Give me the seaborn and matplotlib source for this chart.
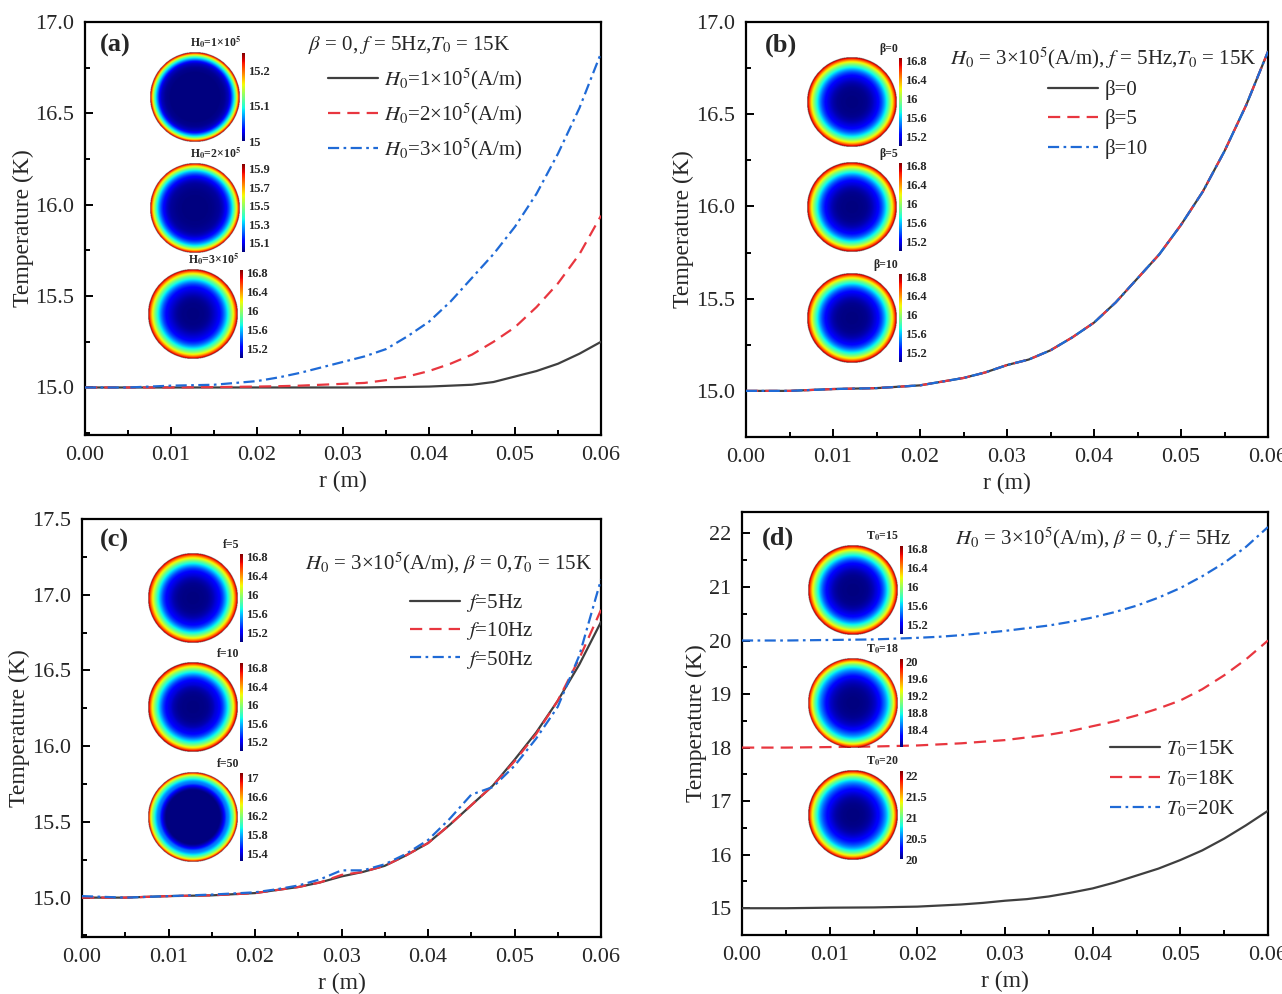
import numpy as np
import pandas as pd
import matplotlib
matplotlib.use("Agg")
import matplotlib.pyplot as plt
import seaborn as sns
from matplotlib.ticker import MultipleLocator, FormatStrFormatter

# ---------------- data ----------------
r = [0.0, 0.005, 0.01, 0.015, 0.02, 0.0225, 0.025, 0.0275, 0.03, 0.0325, 0.035,
     0.0375, 0.04, 0.0425, 0.045, 0.0475, 0.05, 0.0525, 0.055, 0.0575, 0.06]

# panel (a)
T_H1 = [15.0, 15.0, 15.0, 15.0, 15.0, 15.0, 15.0, 15.0, 15.0, 15.0, 15.002,
        15.003, 15.005, 15.01, 15.015, 15.03, 15.06, 15.09, 15.13, 15.185, 15.25]
T_H2 = [15.0, 15.0, 15.0, 15.002, 15.005, 15.007, 15.01, 15.015, 15.02, 15.025, 15.04,
        15.06, 15.09, 15.13, 15.18, 15.25, 15.33, 15.44, 15.57, 15.73, 15.94]
T_H3 = [15.0, 15.0, 15.01, 15.015, 15.035, 15.055, 15.08, 15.11, 15.14, 15.17, 15.21,
        15.28, 15.36, 15.47, 15.6, 15.73, 15.88, 16.06, 16.28, 16.53, 16.83]
# panel (b)
T_b0 = [15.0, 15.0, 15.01, 15.015, 15.03, 15.05, 15.07, 15.1, 15.14, 15.17, 15.22,
        15.29, 15.37, 15.48, 15.61, 15.74, 15.9, 16.08, 16.3, 16.55, 16.84]
T_b5 = T_b0
T_b10 = T_b0
# panel (c)
T_f5 = [15.0, 15.0, 15.01, 15.015, 15.03, 15.05, 15.07, 15.1, 15.14, 15.17, 15.21,
        15.28, 15.36, 15.48, 15.61, 15.74, 15.91, 16.09, 16.3, 16.54, 16.82]
T_f10 = [15.0, 15.0, 15.01, 15.015, 15.03, 15.05, 15.07, 15.1, 15.15, 15.17, 15.21,
         15.28, 15.36, 15.48, 15.61, 15.74, 15.9, 16.08, 16.3, 16.58, 16.9]
T_f50 = [15.01, 15.0, 15.01, 15.02, 15.035, 15.055, 15.08, 15.12, 15.18, 15.18, 15.22,
         15.29, 15.38, 15.52, 15.68, 15.73, 15.87, 16.05, 16.26, 16.6, 17.1]
# panel (d)
T_T15 = [15.0, 15.0, 15.01, 15.015, 15.03, 15.05, 15.07, 15.1, 15.14, 15.17, 15.22,
         15.29, 15.37, 15.48, 15.61, 15.74, 15.9, 16.08, 16.3, 16.55, 16.82]
T_T18 = [18.0, 18.0, 18.01, 18.02, 18.04, 18.06, 18.08, 18.11, 18.14, 18.19, 18.24,
         18.31, 18.4, 18.49, 18.6, 18.73, 18.88, 19.09, 19.35, 19.65, 20.0]
T_T20 = [20.0, 20.0, 20.01, 20.02, 20.05, 20.07, 20.1, 20.14, 20.18, 20.23, 20.28,
         20.35, 20.43, 20.53, 20.65, 20.8, 20.98, 21.2, 21.45, 21.75, 22.12]

labels_a = [r"$H_0$=1×10$^5$(A/m)", r"$H_0$=2×10$^5$(A/m)", r"$H_0$=3×10$^5$(A/m)"]
labels_b = ["β=0", "β=5", "β=10"]
labels_c = [r"$f$=5Hz", r"$f$=10Hz", r"$f$=50Hz"]
labels_d = [r"$T_0$=15K", r"$T_0$=18K", r"$T_0$=20K"]

cond_a = r"$\beta$ = 0, $f$ = 5Hz,$T_0$ = 15K"
cond_b = r"$H_0$ = 3×10$^5$(A/m), $f$ = 5Hz,$T_0$ = 15K"
cond_c = r"$H_0$ = 3×10$^5$(A/m), $\beta$ = 0,$T_0$ = 15K"
cond_d = r"$H_0$ = 3×10$^5$(A/m), $\beta$ = 0, $f$ = 5Hz"

# inset titles / colorbar ticks
inset_a = [r"H$_\mathbf{0}$=1×10$^\mathbf{5}$", r"H$_\mathbf{0}$=2×10$^\mathbf{5}$", r"H$_\mathbf{0}$=3×10$^\mathbf{5}$"]
inset_b = ["β=0", "β=5", "β=10"]
inset_c = ["f=5", "f=10", "f=50"]
inset_d = [r"T$_\mathbf{0}$=15", r"T$_\mathbf{0}$=18", r"T$_\mathbf{0}$=20"]
cb_ticks_a = [[15, 15.1, 15.2], [15.1, 15.3, 15.5, 15.7, 15.9], [15.2, 15.6, 16, 16.4, 16.8]]
cb_ticks_b = [[15.2, 15.6, 16, 16.4, 16.8]] * 3
cb_ticks_c = [[15.2, 15.6, 16, 16.4, 16.8], [15.2, 15.6, 16, 16.4, 16.8], [15.4, 15.8, 16.2, 16.6, 17]]
cb_ticks_d = [[15.2, 15.6, 16, 16.4, 16.8], [18.4, 18.8, 19.2, 19.6, 20], [20, 20.5, 21, 21.5, 22]]
cb_range_a = [(15.0, 15.25), (15.0, 15.95), (15.0, 16.85)]
cb_range_b = [(15.0, 16.85)] * 3
cb_range_c = [(15.0, 16.85), (15.0, 16.9), (15.25, 17.1)]
cb_range_d = [(15.0, 16.85), (18.0, 20.05), (20.0, 22.12)]

# ---------------- style ----------------
sns.set_style("ticks")
plt.rcParams["font.family"] = ["Liberation Serif", "DejaVu Serif"]
plt.rcParams["mathtext.fontset"] = "stix"

W, H = 1282, 994
fig = plt.figure(figsize=(W / 100, H / 100), dpi=100)
fig.patch.set_facecolor("white")


def pax(l, t, rr, b):
    return [l / W, 1 - b / H, (rr - l) / W, (b - t) / H]


COLORS = ["#3f3f3f", "#e8363f", "#1f6ad6"]
STYLES = ["-", (0, (5.5, 3.2)), (0, (5, 2, 1.2, 2))]

panels = [
    dict(box=(85, 22, 601, 435), ys=[T_H1, T_H2, T_H3], labels=labels_a, ylim=(14.74, 17.0),
         major=0.5, minor=0.25, fmt="%.1f", tag="(a)", tagpos=(100, 45), cond=cond_a,
         condpos=(308, 45), leg=(0.471, 0.893), lsp=0.45,
         insets=inset_a, cbt=cb_ticks_a, cbr=cb_range_a, curves=[T_H1, T_H2, T_H3],
         centers=[(195, 97), (195, 208), (193, 314)]),
    dict(box=(746, 22, 1268, 437), ys=[T_b0, T_b5, T_b10], labels=labels_b, ylim=(14.75, 17.0),
         major=0.5, minor=0.25, fmt="%.1f", tag="(b)", tagpos=(765, 45), cond=cond_b,
         condpos=(950, 58), leg=(0.579, 0.860), lsp=0.45,
         insets=inset_b, cbt=cb_ticks_b, cbr=cb_range_b, curves=[T_b0, T_b5, T_b10],
         centers=[(852, 102), (852, 207), (852, 318)]),
    dict(box=(82, 519, 601, 937), ys=[T_f5, T_f10, T_f50], labels=labels_c, ylim=(14.74, 17.5),
         major=0.5, minor=0.25, fmt="%.1f", tag="(c)", tagpos=(100, 540), cond=cond_c,
         condpos=(305, 563), leg=(0.632, 0.825), lsp=0.3,
         insets=inset_c, cbt=cb_ticks_c, cbr=cb_range_c, curves=[T_f5, T_f10, T_f50],
         centers=[(193, 598), (193, 707), (193, 817)]),
    dict(box=(742, 512, 1268, 935), ys=[T_T15, T_T18, T_T20], labels=labels_d, ylim=(14.5, 22.4),
         major=1, minor=0.5, fmt="%d", tag="(d)", tagpos=(762, 538), cond=cond_d,
         condpos=(955, 538), leg=(0.70, 0.465), lsp=0.45,
         insets=inset_d, cbt=cb_ticks_d, cbr=cb_range_d, curves=[T_T15, T_T18, T_T20],
         centers=[(853, 590), (853, 703), (853, 815)]),
]

for p in panels:
    ax = fig.add_axes(pax(*p["box"]))
    for i, (yv, lab) in enumerate(zip(p["ys"], p["labels"])):
        df = pd.DataFrame({"r": r, "T": yv})
        sns.lineplot(data=df, x="r", y="T", ax=ax, color=COLORS[i], linestyle=STYLES[i],
                     linewidth=1.6, label=lab, zorder=3 + i)
    ax.set_xlim(0, 0.06)
    ax.set_ylim(*p["ylim"])
    ax.xaxis.set_major_locator(MultipleLocator(0.01))
    ax.xaxis.set_minor_locator(MultipleLocator(0.005))
    ax.xaxis.set_major_formatter(FormatStrFormatter("%.2f"))
    ax.yaxis.set_major_locator(MultipleLocator(p["major"]))
    ax.yaxis.set_minor_locator(MultipleLocator(p["minor"]))
    ax.yaxis.set_major_formatter(FormatStrFormatter(p["fmt"]))
    ax.tick_params(which="both", direction="in", top=False, right=False, labelsize=16,
                   width=1.4, color="black", pad=8)
    ax.tick_params(which="major", length=6)
    ax.tick_params(which="minor", length=3.5)
    for s in ax.spines.values():
        s.set_linewidth(1.6)
        s.set_color("black")
    ax.set_xlabel("r (m)", fontsize=17, labelpad=4)
    ax.set_ylabel("Temperature (K)", fontsize=17, labelpad=1)
    leg = ax.legend(loc="upper left", bbox_to_anchor=p["leg"], frameon=False, fontsize=15,
                    handlelength=2.4, handletextpad=0.3, borderpad=0, borderaxespad=0,
                    labelspacing=p["lsp"])
    fig.text(p["tagpos"][0] / W, 1 - p["tagpos"][1] / H, p["tag"], fontsize=19,
             fontweight="bold", va="center", ha="left")
    fig.text(p["condpos"][0] / W, 1 - p["condpos"][1] / H, p["cond"], fontsize=15,
             va="center", ha="left")

    # insets: temperature distribution disks with colorbars
    for (cx, cy), title, ticks, (vmin, vmax), curve in zip(p["centers"], p["insets"], p["cbt"],
                                                          p["cbr"], p["curves"]):
        R = 45
        dax = fig.add_axes(pax(cx - R, cy - R, cx + R, cy + R))
        n = 240
        g = np.linspace(-1, 1, n)
        X, Y = np.meshgrid(g, g)
        rho = np.sqrt(X ** 2 + Y ** 2)
        field = np.interp(rho * 0.06, r, curve)
        field = np.ma.masked_where(rho > 1, field)
        dax.imshow(field, cmap="jet", vmin=vmin, vmax=vmax, extent=(-1, 1, -1, 1),
                   interpolation="bilinear")
        dax.set_aspect("equal")
        dax.axis("off")
        cax = fig.add_axes(pax(cx + R + 2, cy - R + 1, cx + R + 5, cy + R - 1))
        grad = np.linspace(vmin, vmax, 256).reshape(-1, 1)
        cax.imshow(grad, cmap="jet", aspect="auto", origin="lower",
                   extent=(0, 1, vmin, vmax), vmin=vmin, vmax=vmax)
        cax.set_xticks([])
        cax.set_yticks(ticks)
        cax.set_yticklabels([f"{t:g}" for t in ticks])
        cax.yaxis.tick_right()
        cax.tick_params(axis="y", length=0, pad=2, labelsize=9)
        for lab in cax.get_yticklabels():
            lab.set_fontweight("bold")
        for s in cax.spines.values():
            s.set_visible(False)
        fig.text((cx + R + 1) / W, 1 - (cy - R - 2) / H, title, fontsize=8.5,
                 fontweight="bold", ha="right", va="bottom")

fig.savefig("out.png", dpi=100, facecolor="white")
